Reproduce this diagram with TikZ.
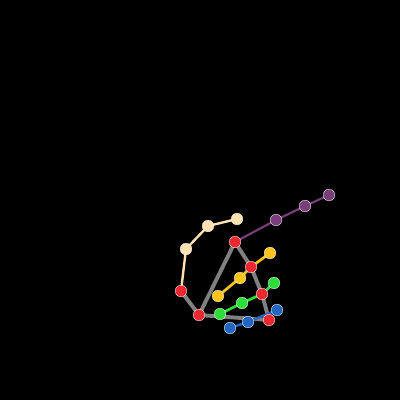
\documentclass[tikz,border=0pt]{standalone}
\usetikzlibrary{positioning}
\usepackage{xcolor}
\definecolor{jred}{RGB}{238,40,48}
\definecolor{jgray}{RGB}{128,128,128}
\definecolor{jcream}{RGB}{255,226,176}
\definecolor{jpurple}{RGB}{122,62,122}
\definecolor{jyellow}{RGB}{252,196,22}
\definecolor{jgreen}{RGB}{44,222,56}
\definecolor{jblue}{RGB}{34,102,196}

\begin{document}
\begin{tikzpicture}[x=0.025cm, y=-0.025cm,
    joint/.style={circle, draw=white, line width=0.25pt, inner sep=0pt, minimum size=0.29cm},
    bone/.style={line width=2.1pt, line cap=round}]
    \fill[black] (0,0) rectangle (400,400);
    \useasboundingbox (0,0) rectangle (400,400);
    % palm
    \coordinate (r1) at (235,242);
    \coordinate (r2) at (251,267);
    \coordinate (r3) at (262,294);
    \coordinate (r4) at (269,320);
    \coordinate (r5) at (199,315);
    \coordinate (r6) at (181,291);
    \draw[bone, jgray, line width=2.8pt] (r6) -- (r5) -- (r1) -- (r2) -- (r3) -- (r4) -- (r5);
    % fingers
    \coordinate (c1) at (186,249);
    \coordinate (c2) at (208,226);
    \coordinate (c3) at (237,219);
    \coordinate (p1) at (276,220);
    \coordinate (p2) at (305,206);
    \coordinate (p3) at (329,195);
    \coordinate (y1) at (218,296);
    \coordinate (y2) at (240,278);
    \coordinate (y3) at (270,253);
    \coordinate (g1) at (220,314);
    \coordinate (g2) at (242,303);
    \coordinate (g3) at (274,283);
    \coordinate (b1) at (230,328);
    \coordinate (b2) at (248,322);
    \coordinate (b3) at (277,310);
    \draw[bone, jcream, line width=1.7pt] (r6) -- (c1) -- (c2) -- (c3);
    \draw[bone, jpurple, line width=1.5pt] (r1) -- (p1) -- (p2) -- (p3);
    \draw[bone, jyellow, line width=1.9pt] (y1) -- (y2) -- (r2) -- (y3);
    \draw[bone, jgreen, line width=1.9pt] (g1) -- (g2) -- (r3) -- (g3);
    \draw[bone, jblue, line width=1.7pt] (b1) -- (b2) -- (b3);
    % joints
    \foreach \j/\c in {r1/jred, r2/jred, r3/jred, r4/jred, r5/jred, r6/jred,
        c1/jcream, c2/jcream, c3/jcream, p1/jpurple, p2/jpurple, p3/jpurple,
        y1/jyellow, y2/jyellow, y3/jyellow, g1/jgreen, g2/jgreen, g3/jgreen,
        b1/jblue, b2/jblue, b3/jblue} {
      \node[joint, fill=\c] (n\j) at (\j) {};
    }
\end{tikzpicture}
\end{document}
